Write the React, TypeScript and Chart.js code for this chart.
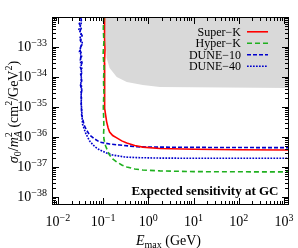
import { useEffect, useRef } from "react";
import { Chart, registerables } from "chart.js";
Chart.register(...registerables);

// ---------- axis ranges & tick labels ----------
const X_MIN = 0.0074;
const X_MAX = 1290;
const Y_MIN = 5.4e-39;
const Y_MAX = 1e-32;
const X_TICK_EXPONENTS = [-2, -1, 0, 1, 2, 3];
const Y_TICK_EXPONENTS = [-38, -37, -36, -35, -34, -33];

// ---------- series ----------
const LABELS = ["Super\u2212K", "Hyper\u2212K", "DUNE\u221210", "DUNE\u221240"];

const superKX = [0.107, 0.109, 0.106, 0.11, 0.107, 0.109, 0.106, 0.109, 0.108, 0.1137, 0.1196, 0.129, 0.139, 0.163, 0.2, 0.258, 0.333, 0.5, 0.755, 1.8, 10, 100, 1290];
const superKY = [1e-32, 5e-33, 2e-33, 8e-34, 3e-34, 1e-34, 4e-35, 1.5e-35, 9e-36, 5.4e-36, 3.2e-36, 2e-36, 1.47e-36, 1.12e-36, 9.3e-37, 7.4e-37, 6.3e-37, 5.2e-37, 4.6e-37, 4.15e-37, 3.9e-37, 3.75e-37, 3.7e-37];

const hyperKX = [0.103, 0.101, 0.104, 0.1, 0.105, 0.102, 0.104, 0.101, 0.103, 0.104, 0.102, 0.105, 0.1137, 0.126, 0.139, 0.163, 0.2, 0.258, 0.333, 0.5, 0.755, 1.8, 10, 100, 1290];
const hyperKY = [1e-32, 4e-33, 1.5e-33, 6e-34, 2e-34, 8e-35, 3e-35, 1e-35, 4e-36, 2e-36, 1.2e-36, 7.9e-37, 5e-37, 3.4e-37, 2.5e-37, 1.85e-37, 1.47e-37, 1.17e-37, 1e-37, 8.6e-38, 7.9e-38, 7.4e-38, 7.0e-38, 6.9e-38, 6.85e-38];

const dune10X = [0.0318, 0.0329, 0.0296, 0.0334, 0.0306, 0.0343, 0.0312, 0.0338, 0.0302, 0.0331, 0.0317, 0.0342, 0.0314, 0.034, 0.0321, 0.0336, 0.0316, 0.0338, 0.0325, 0.033, 0.0328, 0.0332, 0.0335, 0.035, 0.0379, 0.043, 0.05, 0.0648, 0.0836, 0.139, 0.233, 0.555, 1.8, 10, 100, 1290];
const dune10Y = [1e-32, 8e-33, 6e-33, 4.5e-33, 3.3e-33, 2.4e-33, 1.7e-33, 1.2e-33, 8.5e-34, 6e-34, 4.2e-34, 3e-34, 2.1e-34, 1.5e-34, 1.05e-34, 7.5e-35, 5.3e-35, 3.7e-35, 2.6e-35, 1.8e-35, 1.25e-35, 8.5e-36, 5.4e-36, 4.3e-36, 2.5e-36, 1.7e-36, 1.17e-36, 8.6e-37, 6.8e-37, 5.8e-37, 5.4e-37, 4.7e-37, 4.6e-37, 4.5e-37, 4.45e-37, 4.4e-37];

const dune40X = [0.0305, 0.0336, 0.0314, 0.029, 0.0327, 0.0309, 0.0345, 0.0322, 0.0299, 0.0335, 0.0311, 0.0326, 0.0339, 0.0318, 0.0333, 0.0322, 0.0337, 0.0324, 0.0331, 0.0327, 0.0334, 0.035, 0.0409, 0.05, 0.0648, 0.0836, 0.1196, 0.163, 0.3, 0.555, 1.8, 10, 100, 1290];
const dune40Y = [1e-32, 7e-33, 5e-33, 3.8e-33, 2.8e-33, 2e-33, 1.4e-33, 1e-33, 7e-34, 5e-34, 3.6e-34, 2.5e-34, 1.8e-34, 1.25e-34, 9e-35, 6.3e-35, 4.4e-35, 3e-35, 2.1e-35, 1.4e-35, 9e-36, 2.7e-36, 1.36e-36, 7.4e-37, 4.8e-37, 3.7e-37, 2.9e-37, 2.5e-37, 2.15e-37, 2.05e-37, 1.98e-37, 1.95e-37, 1.95e-37, 1.95e-37];

// excluded region (gray band)
const excludedX = [0.108, 0.1136, 0.1196, 0.139, 0.2, 0.333, 0.755, 1.8, 1290];
const excludedY = [1e-32, 1.7e-33, 4.3e-34, 2e-34, 1e-34, 6.8e-35, 5.4e-35, 4.6e-35, 4.3e-35];

const toPts = (xs: number[], ys: number[]) => xs.map((x, i) => ({ x, y: ys[i] }));

const SERIF = "'Liberation Serif', 'Times New Roman', serif";

type Seg = { t: string; f: string; dy?: number; noAdv?: boolean };

function segsWidth(ctx: CanvasRenderingContext2D, segs: Seg[]) {
  let w = 0;
  for (const s of segs) {
    if (s.noAdv) continue;
    ctx.font = s.f;
    w += ctx.measureText(s.t).width;
  }
  return w;
}
function drawSegs(ctx: CanvasRenderingContext2D, segs: Seg[], x: number, y: number) {
  let cx = x;
  for (const s of segs) {
    ctx.font = s.f;
    ctx.fillText(s.t, cx, y + (s.dy || 0));
    if (!s.noAdv) cx += ctx.measureText(s.t).width;
  }
}
const powSegs = (e: number): Seg[] => [
  { t: "10", f: `14px ${SERIF}` },
  { t: (e < 0 ? "\u2212" : "") + Math.abs(e), f: `10px ${SERIF}`, dy: -5 },
];

const framePlugin = {
  id: "framePlugin",
  afterDraw(chart: any) {
    const { ctx, chartArea: ca, scales } = chart;
    const xs = scales.x;
    const ys = scales.y;
    ctx.save();
    ctx.strokeStyle = "#000";
    ctx.fillStyle = "#000";
    ctx.lineWidth = 1;
    ctx.setLineDash([]);
    ctx.strokeRect(ca.left + 0.5, ca.top + 0.5, ca.right - ca.left - 1, ca.bottom - ca.top - 1);

    ctx.beginPath();
    for (let d = -3; d <= 4; d++) {
      for (let m = 1; m <= 9; m++) {
        const v = m * Math.pow(10, d);
        if (v < X_MIN || v > X_MAX) continue;
        const px = Math.round(xs.getPixelForValue(v)) + 0.5;
        const len = m === 1 ? 7 : 4;
        ctx.moveTo(px, ca.bottom);
        ctx.lineTo(px, ca.bottom - len);
        ctx.moveTo(px, ca.top);
        ctx.lineTo(px, ca.top + len);
      }
    }
    for (let d = -40; d <= -31; d++) {
      for (let m = 1; m <= 9; m++) {
        const v = m * Math.pow(10, d);
        if (v < Y_MIN || v > Y_MAX * 1.0001) continue;
        const py = Math.round(ys.getPixelForValue(v)) + 0.5;
        const len = m === 1 ? 7 : 4;
        ctx.moveTo(ca.left, py);
        ctx.lineTo(ca.left + len, py);
        ctx.moveTo(ca.right, py);
        ctx.lineTo(ca.right - len, py);
      }
    }
    ctx.stroke();

    // tick labels
    ctx.textBaseline = "alphabetic";
    ctx.textAlign = "left";
    for (const e of X_TICK_EXPONENTS) {
      const px = xs.getPixelForValue(Math.pow(10, e));
      const segs = powSegs(e);
      const w = segsWidth(ctx, segs);
      drawSegs(ctx, segs, px - w / 2, 226);
    }
    for (const e of Y_TICK_EXPONENTS) {
      const py = ys.getPixelForValue(Math.pow(10, e));
      const segs = powSegs(e);
      const w = segsWidth(ctx, segs);
      drawSegs(ctx, segs, 47 - w, py + 4.5);
    }

    // x title
    const xt: Seg[] = [
      { t: "E", f: `italic 14px ${SERIF}` },
      { t: "max", f: `10px ${SERIF}`, dy: 2.5 },
      { t: " (GeV)", f: `14px ${SERIF}` },
    ];
    const xw = segsWidth(ctx, xt);
    drawSegs(ctx, xt, 168.5 - xw / 2, 245);

    // y title
    const yt: Seg[] = [
      { t: "\u03c3", f: `italic 14px ${SERIF}` },
      { t: "0", f: `10px ${SERIF}`, dy: 3 },
      { t: "/", f: `14px ${SERIF}` },
      { t: "m", f: `italic 14px ${SERIF}` },
      { t: "2", f: `10px ${SERIF}`, dy: -6, noAdv: true },
      { t: "A", f: `italic 10px ${SERIF}`, dy: 3 },
      { t: " (cm", f: `14px ${SERIF}` },
      { t: "2", f: `10px ${SERIF}`, dy: -6 },
      { t: "/GeV", f: `14px ${SERIF}` },
      { t: "2", f: `10px ${SERIF}`, dy: -6 },
      { t: ")", f: `14px ${SERIF}` },
    ];
    const yw = segsWidth(ctx, yt);
    ctx.save();
    ctx.translate(18, 112);
    ctx.rotate(-Math.PI / 2);
    drawSegs(ctx, yt, -yw / 2, 0);
    ctx.restore();

    // legend
    const ds = chart.data.datasets.filter((d: any) => d.label);
    ds.forEach((d: any, i: number) => {
      const cy = 31.8 + i * 11.5;
      ctx.font = `12px ${SERIF}`;
      ctx.textAlign = "right";
      ctx.fillStyle = "#000";
      ctx.fillText(d.label, 241, cy + 4);
      ctx.beginPath();
      ctx.strokeStyle = d.borderColor;
      ctx.lineWidth = d.borderWidth;
      ctx.setLineDash(d.borderDash || []);
      ctx.moveTo(247, cy);
      ctx.lineTo(268, cy);
      ctx.stroke();
    });
    ctx.setLineDash([]);

    // annotation
    ctx.textAlign = "right";
    ctx.fillStyle = "#000";
    ctx.font = `bold 13px ${SERIF}`;
    ctx.fillText("Expected sensitivity at GC", 278.5, 194.5);
    ctx.restore();
  },
};

export default function App() {
  const ref = useRef<HTMLCanvasElement>(null);
  useEffect(() => {
    const line = (label: string, xs: number[], ys: number[], color: string, dash: number[], order: number) => ({
      label,
      data: toPts(xs, ys),
      showLine: true,
      borderColor: color,
      borderWidth: 1.6,
      borderDash: dash,
      borderCapStyle: "butt",
      pointRadius: 0,
      fill: false,
      tension: 0,
      order,
    });
    const chart = new Chart(ref.current as HTMLCanvasElement, {
      type: "scatter",
      data: {
        datasets: [
          line(LABELS[0], superKX, superKY, "#ff0000", [], 1),
          line(LABELS[1], hyperKX, hyperKY, "#1fb01f", [5, 3], 0),
          line(LABELS[2], dune10X, dune10Y, "#0000cc", [4, 2], 2),
          line(LABELS[3], dune40X, dune40Y, "#0000cc", [1.7, 1.3], 3),
          {
            label: "",
            data: toPts(excludedX, excludedY),
            showLine: true,
            borderWidth: 0,
            borderColor: "rgba(0,0,0,0)",
            backgroundColor: "#d9d9d9",
            pointRadius: 0,
            fill: "end",
            order: 10,
          } as any,
        ] as any,
      },
      options: {
        animation: false,
        responsive: false,
        devicePixelRatio: 1,
        layout: { padding: { left: 52, right: 9, top: 17, bottom: 43 } },
        scales: {
          x: { type: "logarithmic", min: X_MIN, max: X_MAX, display: false },
          y: { type: "logarithmic", min: Y_MIN, max: Y_MAX, display: false },
        },
        plugins: { legend: { display: false }, tooltip: { enabled: false } },
      } as any,
      plugins: [framePlugin],
    });
    return () => chart.destroy();
  }, []);
  return (
    <div style={{ position: "fixed", left: 0, top: 0, width: 298, height: 248, background: "#fff" }}>
      <canvas ref={ref} width={298} height={248} style={{ display: "block", width: 298, height: 248 }} />
    </div>
  );
}
